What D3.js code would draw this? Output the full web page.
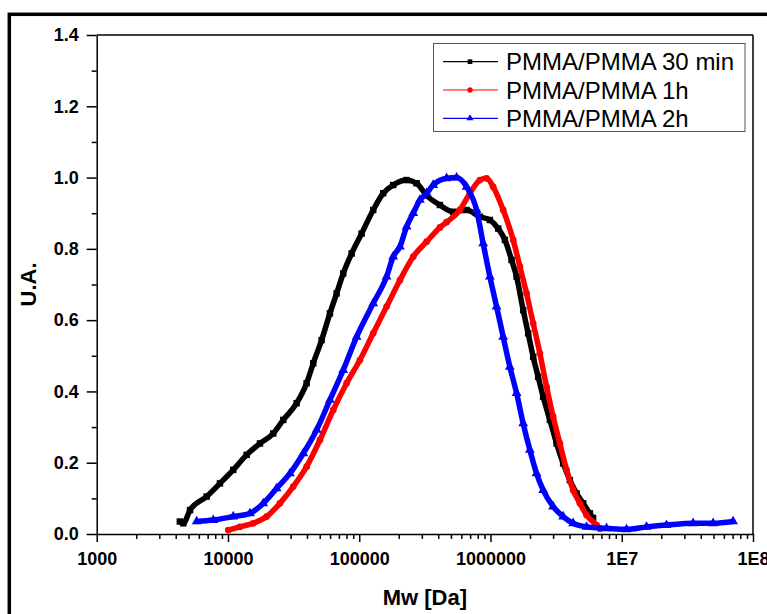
<!DOCTYPE html>
<html>
<head>
<meta charset="utf-8">
<script src="https://cdn.jsdelivr.net/npm/d3@7"></script>
<style>
  body { margin: 0; background: #fff; }
  svg { display: block; font-family: Arial, "Liberation Sans", sans-serif; }
</style>
</head>
<body>
<svg id="chart" width="767" height="614"></svg>
<script>
// Data (Mw in Da, signal in U.A.)
var mw30 = [4300, 4570, 5140, 6880, 8690, 10970, 13880, 17530, 22130, 26380, 33360, 39750, 44640, 51710, 59820, 67280, 75530, 87530, 104300, 127800, 152300, 181500, 229600, 273600, 326100, 411800, 520000, 657700, 830000, 989500, 1145000, 1288000, 1448000, 1581000, 1775000, 1937000, 2115000, 2308000, 2520000, 2835000, 3188000, 3579000, 4025000, 4528000, 5082000, 5715000, 6050000]
var ua30 = [0.035, 0.03, 0.067, 0.105, 0.142, 0.18, 0.222, 0.254, 0.282, 0.32, 0.367, 0.423, 0.479, 0.544, 0.619, 0.675, 0.731, 0.787, 0.843, 0.909, 0.956, 0.979, 0.993, 0.984, 0.95, 0.923, 0.904, 0.909, 0.89, 0.881, 0.857, 0.825, 0.769, 0.722, 0.628, 0.563, 0.497, 0.441, 0.385, 0.32, 0.254, 0.198, 0.151, 0.114, 0.086, 0.058, 0.045]

var mw1h = [10050, 12340, 15580, 19710, 24890, 31430, 39750, 50200, 63390, 80170, 101200, 127800, 161700, 204200, 257800, 326100, 411800, 463100, 584600, 696600, 830000, 933900, 1048000, 1250000, 1489000, 1675000, 1883000, 2115000, 2378000, 2675000, 3003000, 3378000, 3799000, 4265000, 4797000, 5395000, 6430000, 6810000]
var ua1h = [0.011, 0.02, 0.03, 0.049, 0.086, 0.133, 0.189, 0.264, 0.348, 0.423, 0.488, 0.563, 0.638, 0.712, 0.778, 0.82, 0.86, 0.875, 0.909, 0.956, 0.993, 0.998, 0.974, 0.909, 0.825, 0.75, 0.675, 0.591, 0.507, 0.413, 0.329, 0.254, 0.18, 0.123, 0.086, 0.053, 0.025, 0.015]

var mw2h = [5780, 7730, 10970, 14710, 18570, 23490, 29670, 37460, 47380, 59820, 75530, 95540, 127800, 161700, 181500, 204200, 229600, 257800, 289900, 326100, 366100, 463100, 551800, 657700, 783800, 879700, 989500, 1113000, 1250000, 1405000, 1581000, 1775000, 1995000, 2244000, 2520000, 3003000, 3579000, 4265000, 5395000, 7660000, 10880000, 15450000, 21940000, 34970000, 49670000, 70530000]
var ua2h = [0.035, 0.039, 0.049, 0.058, 0.086, 0.128, 0.17, 0.226, 0.292, 0.376, 0.46, 0.553, 0.647, 0.722, 0.778, 0.806, 0.862, 0.9, 0.937, 0.956, 0.979, 0.998, 1.0, 0.974, 0.909, 0.815, 0.722, 0.638, 0.553, 0.469, 0.395, 0.31, 0.236, 0.17, 0.123, 0.077, 0.049, 0.03, 0.02, 0.016, 0.013, 0.02, 0.025, 0.03, 0.03, 0.035]

var seriesNames = ["PMMA/PMMA 30 min", "PMMA/PMMA 1h", "PMMA/PMMA 2h"]
var seriesColors = ["#000000", "#ff0000", "#0000ff"]
var xTickValues = [1e3, 1e4, 1e5, 1e6, 1e7, 1e8]
var xTickLabels = ["1000", "10000", "100000", "1000000", "1E7", "1E8"]
var yTickValues = [0, 0.2, 0.4, 0.6, 0.8, 1.0, 1.2, 1.4]

var svg = d3.select("#chart")
var plotLeft = 96.7, plotRight = 753, plotTop = 35, plotBottom = 534

var x = d3.scaleLog().domain([1e3, 1e8]).range([plotLeft, plotRight])
var y = d3.scaleLinear().domain([0, 1.4]).range([plotBottom, plotTop])

svg.append("rect").attr("width", 767).attr("height", 614).attr("fill", "#fff")

// outer frame (cut by the picture edge)
svg.append("rect")
  .attr("x", 9.3).attr("y", 14.3).attr("width", 800).attr("height", 700)
  .attr("fill", "none").attr("stroke", "#000").attr("stroke-width", 3.5)

// minor ticks
var xMinor = []
for (var e = 3; e < 8; e++) for (var k = 2; k <= 9; k++) xMinor.push(k * Math.pow(10, e))
var yMinor = [0.1, 0.3, 0.5, 0.7, 0.9, 1.1, 1.3]

svg.append("g").attr("transform", "translate(0," + plotBottom + ")")
  .call(d3.axisBottom(x).tickValues(xMinor).tickSize(5).tickFormat(""))
  .call(g => g.select(".domain").remove())
svg.append("g").attr("transform", "translate(" + plotLeft + ",0)")
  .call(d3.axisLeft(y).tickValues(yMinor).tickSize(5).tickFormat(""))
  .call(g => g.select(".domain").remove())

svg.append("g").attr("transform", "translate(0," + plotBottom + ")")
  .call(d3.axisBottom(x).tickValues(xTickValues).tickSize(8).tickSizeOuter(0).tickPadding(10)
    .tickFormat((d, i) => xTickLabels[i]))
svg.append("g").attr("transform", "translate(" + plotLeft + ",0)")
  .call(d3.axisLeft(y).tickValues(yTickValues).tickSize(10).tickSizeOuter(0).tickPadding(8)
    .tickFormat(d3.format(".1f")))

svg.selectAll(".tick line").attr("stroke", "#000").attr("stroke-width", 1.5)
svg.selectAll(".domain").attr("stroke", "#000").attr("stroke-width", 1.5)
svg.selectAll(".tick text").attr("fill", "#000")
  .style("font-size", "18px").style("font-weight", "bold")
  .style("font-family", "Arial, 'Liberation Sans', sans-serif")

// top and right spines
svg.append("line").attr("x1", plotLeft).attr("x2", plotRight).attr("y1", plotTop).attr("y2", plotTop)
  .attr("stroke", "#000").attr("stroke-width", 1.5)
svg.append("line").attr("x1", plotRight).attr("x2", plotRight).attr("y1", plotTop).attr("y2", plotBottom)
  .attr("stroke", "#000").attr("stroke-width", 1.5)

// axis titles
svg.append("text").attr("transform", "translate(36," + ((plotTop + plotBottom) / 2) + ") rotate(-90)")
  .attr("text-anchor", "middle").style("font-size", "22px").style("font-weight", "bold")
  .text("U.A.")
svg.append("text").attr("x", (plotLeft + plotRight) / 2).attr("y", 605)
  .attr("text-anchor", "middle").style("font-size", "22px").style("font-weight", "bold")
  .text("Mw [Da]")

// series
var series = [
  { mw: mw30, ua: ua30, sym: d3.symbolSquare, size: 42 },
  { mw: mw1h, ua: ua1h, sym: d3.symbolCircle, size: 36 },
  { mw: mw2h, ua: ua2h, sym: d3.symbolTriangle, size: 42 }
]

var line = d3.line().x(d => x(d[0])).y(d => y(d[1])).curve(d3.curveMonotoneX)

series.forEach(function(s, i) {
  var pts = s.mw.map((m, j) => [m, s.ua[j]])
  var g = svg.append("g")
  g.append("path").datum(pts).attr("d", line)
    .attr("fill", "none").attr("stroke", seriesColors[i]).attr("stroke-width", 5.5)
    .attr("stroke-linejoin", "round")
  g.selectAll("path.mk").data(pts).join("path").attr("class", "mk")
    .attr("transform", d => "translate(" + x(d[0]) + "," + y(d[1]) + ")")
    .attr("d", d3.symbol().type(s.sym).size(s.size))
    .attr("fill", seriesColors[i])
})

// legend
var legend = svg.append("g")
legend.append("rect").attr("x", 433.5).attr("y", 43.5).attr("width", 311.5).attr("height", 88)
  .attr("fill", "#fff").attr("stroke", "#555").attr("stroke-width", 1)
seriesNames.forEach(function(name, i) {
  var ry = 61.7 + i * 28.3
  legend.append("line").attr("x1", 443).attr("x2", 498).attr("y1", ry).attr("y2", ry)
    .attr("stroke", seriesColors[i]).attr("stroke-width", 1.2)
  legend.append("path").attr("transform", "translate(470," + ry + ")")
    .attr("d", d3.symbol().type(series[i].sym).size(22)).attr("fill", seriesColors[i])
  legend.append("text").attr("x", 506).attr("y", ry).attr("dy", "0.36em")
    .style("font-size", "24px").text(name)
})
</script>
</body>
</html>
